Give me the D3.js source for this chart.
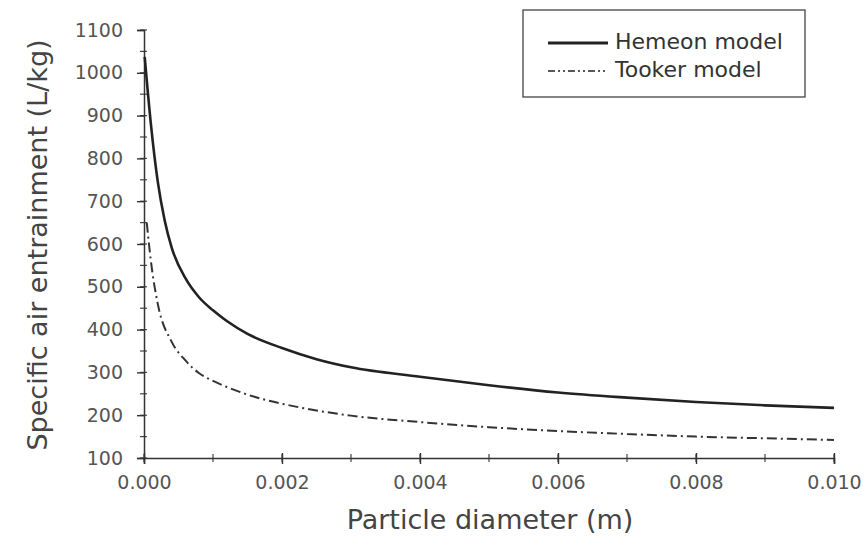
<!DOCTYPE html>
<html>
<head>
<meta charset="utf-8">
<script src="https://cdn.jsdelivr.net/npm/d3@7"></script>
<style>
  body { margin: 0; background: #fff; }
  svg { font-family: "DejaVu Sans", "Liberation Sans", Arial, sans-serif; }
</style>
</head>
<body>
<div id="chart"></div>
<script>
// Data
const hemeonD = [0.00001, 0.0001, 0.0002, 0.0003, 0.0004, 0.0006, 0.0008, 0.001, 0.0012, 0.0015, 0.002, 0.0025, 0.003, 0.004, 0.005, 0.006, 0.007, 0.008, 0.009, 0.010];
const hemeonV = [1037, 880, 745, 655, 592, 520, 475, 445, 420, 390, 357, 331, 312, 290, 270, 253, 241, 231, 223, 217];

const tookerD = [0.00004, 0.0001, 0.0002, 0.0004, 0.0006, 0.0008, 0.001, 0.0012, 0.0016, 0.0022, 0.003, 0.004, 0.005, 0.006, 0.007, 0.008, 0.009, 0.010];
const tookerV = [650, 560, 460, 372, 328, 298, 280, 266, 243, 220, 199, 184, 172, 163, 156, 150, 146, 142];

const xTicks = [0, 0.002, 0.004, 0.006, 0.008, 0.010];
const yTicks = [100, 200, 300, 400, 500, 600, 700, 800, 900, 1000, 1100];

const seriesNames = ["Hemeon model", "Tooker model"];

// Setting the dimensions and margins of the graph
const margin = {top: 30, right: 31, bottom: 82, left: 144},
    width = 865 - margin.left - margin.right,
    height = 540 - margin.top - margin.bottom;

const svg = d3.select("#chart")
    .append("svg")
    .attr("width", 865)
    .attr("height", 540)
    .append("g")
    .attr("transform", `translate(${margin.left},${margin.top})`);

const x = d3.scaleLinear().domain([0, 0.010]).range([0, width]);
const y = d3.scaleLinear().domain([100, 1100]).range([height, 0]);

// minor ticks, crossing the axis
const xMinor = d3.range(0, 0.0101, 0.001);
const yMinor = d3.range(100, 1101, 50);

svg.append("g")
    .selectAll("line")
    .data(xMinor)
    .join("line")
    .attr("x1", d => x(d)).attr("x2", d => x(d))
    .attr("y1", height - 4).attr("y2", height + 4)
    .attr("stroke", "#444").attr("stroke-width", 1.2);

svg.append("g")
    .selectAll("line")
    .data(yMinor)
    .join("line")
    .attr("y1", d => y(d)).attr("y2", d => y(d))
    .attr("x1", -4).attr("x2", 3)
    .attr("stroke", "#444").attr("stroke-width", 1.2);

// X axis
const xAxis = svg.append("g")
    .attr("transform", `translate(0, ${height})`)
    .call(d3.axisBottom(x).tickValues(xTicks).tickFormat(d3.format(".3f")).tickSize(6).tickPadding(12));
xAxis.attr("font-size", 19).attr("font-family", null);
xAxis.select(".domain").attr("stroke", "#333").attr("stroke-width", 1.5);
xAxis.selectAll(".tick line").attr("y1", -5).attr("stroke", "#333").attr("stroke-width", 1.4);
xAxis.selectAll(".tick text").attr("fill", "#555");

// Y axis
const yAxis = svg.append("g")
    .call(d3.axisLeft(y).tickValues(yTicks).tickFormat(d3.format("d")).tickSize(7).tickPadding(14));
yAxis.attr("font-size", 19).attr("font-family", null);
yAxis.select(".domain").attr("stroke", "#333").attr("stroke-width", 1.5);
yAxis.selectAll(".tick line").attr("stroke", "#333").attr("stroke-width", 1.4);
yAxis.selectAll(".tick text").attr("fill", "#555");

// Axis titles
svg.append("text")
    .attr("x", 490 - margin.left)
    .attr("y", 529 - margin.top)
    .attr("text-anchor", "middle")
    .attr("font-size", 27)
    .attr("fill", "#444")
    .text("Particle diameter (m)");

svg.append("text")
    .attr("transform", `translate(${47 - margin.left}, ${245 - margin.top}) rotate(-90)`)
    .attr("text-anchor", "middle")
    .attr("font-size", 27)
    .attr("fill", "#444")
    .text("Specific air entrainment (L/kg)");

// Lines
const line = d3.line()
    .x(d => x(d[0]))
    .y(d => y(d[1]))
    .curve(d3.curveMonotoneX);

svg.append("path")
    .datum(d3.zip(hemeonD, hemeonV))
    .attr("fill", "none")
    .attr("stroke", "#222")
    .attr("stroke-width", 2.6)
    .attr("d", line);

svg.append("path")
    .datum(d3.zip(tookerD, tookerV))
    .attr("fill", "none")
    .attr("stroke", "#333")
    .attr("stroke-width", 2)
    .attr("stroke-dasharray", "10,4,2,4")
    .attr("d", line);

// Legend
const legend = svg.append("g").attr("transform", `translate(${523 - margin.left},${10 - margin.top})`);
legend.append("rect")
    .attr("width", 282).attr("height", 87)
    .attr("fill", "#fff").attr("stroke", "#444").attr("stroke-width", 1.3);
const styles = [{w: 3, dash: null}, {w: 1.6, dash: "7,3,2,3,2,3"}];
seriesNames.forEach((name, i) => {
    const yy = 33 + i * 28;
    legend.append("line")
        .attr("x1", 25).attr("x2", 85).attr("y1", yy).attr("y2", yy)
        .attr("stroke", "#222").attr("stroke-width", styles[i].w)
        .attr("stroke-dasharray", styles[i].dash);
    legend.append("text")
        .attr("x", 92).attr("y", yy)
        .attr("dominant-baseline", "middle")
        .attr("font-size", 22)
        .attr("fill", "#333")
        .text(name);
});
</script>
</body>
</html>
